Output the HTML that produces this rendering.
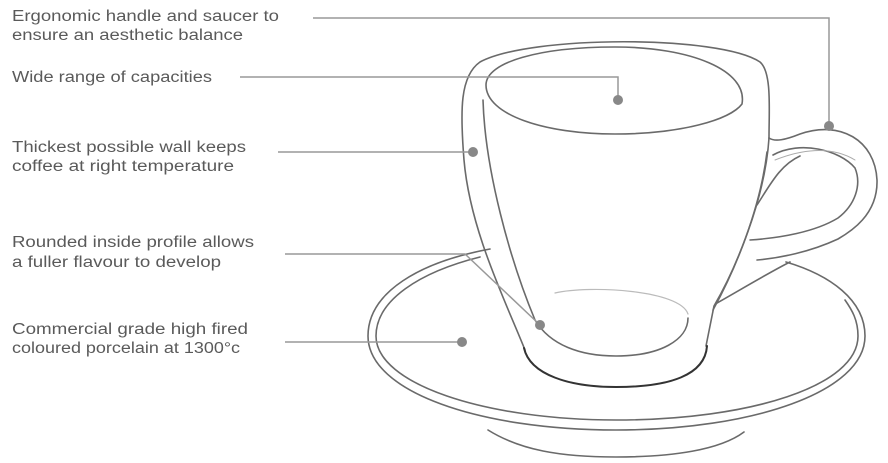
<!DOCTYPE html>
<html><head><meta charset="utf-8"><style>
html,body{margin:0;padding:0;background:#fff;}
svg{display:block;}
text{font-family:"Liberation Sans",sans-serif;font-size:15.5px;fill:#5a5a5a;}
</style></head><body>
<svg width="888" height="463" viewBox="0 0 888 463" xmlns="http://www.w3.org/2000/svg">
<g>
<text x="12" y="21" textLength="267" lengthAdjust="spacingAndGlyphs">Ergonomic handle and saucer to</text>
<text x="12" y="40" textLength="231" lengthAdjust="spacingAndGlyphs">ensure an aesthetic balance</text>
<text x="12" y="82" textLength="200" lengthAdjust="spacingAndGlyphs">Wide range of capacities</text>
<text x="12" y="152" textLength="234" lengthAdjust="spacingAndGlyphs">Thickest possible wall keeps</text>
<text x="12" y="171" textLength="222" lengthAdjust="spacingAndGlyphs">coffee at right temperature</text>
<text x="12" y="247" textLength="242" lengthAdjust="spacingAndGlyphs">Rounded inside profile allows</text>
<text x="12" y="267" textLength="209" lengthAdjust="spacingAndGlyphs">a fuller flavour to develop</text>
<text x="12" y="334" textLength="236" lengthAdjust="spacingAndGlyphs">Commercial grade high fired</text>
<text x="12" y="353" textLength="228" lengthAdjust="spacingAndGlyphs">coloured porcelain at 1300°c</text>
</g>
<g fill="none" stroke="#6a6a6a" stroke-width="1.6" stroke-linecap="round" stroke-linejoin="round">
<!-- saucer -->
<path d="M490,249 C420,262 368,292 368,336 C368,392 480,430 616,430 C752,430 865,392 865,336 C865,300 830,275 786,262"/>
<path d="M480,257 C420,272 376,300 376,336 C376,384 485,420 616,420 C750,420 858,386 858,336 C858,320 852,310 845,300"/>
<path d="M488,430 C520,450 560,457 616,457 C672,457 720,450 744,432"/>
<!-- cup rim outer -->
<path d="M525,350 C505,300 470,230 464,160 C460,110 460,76 480,62 C530,35 720,35 760,62 C772,72 769,110 769,138"/>
<!-- inner rim ellipse -->
<path d="M742,104 C748,70 690,47 615,47 C540,47 486,62 486,85 C486,115 545,134 615,134 C680,134 730,120 742,104"/>
<!-- inner left wall -->
<path d="M483,100 C485,170 510,260 535,320 C550,345 580,356 616,356 C660,356 688,340 688,318"/>
<path d="M555,293 C590,285 680,290 688,314" stroke="#bbb" stroke-width="1.2"/>
<!-- right wall -->
<path d="M769,138 C765,200 735,270 714,306 L706,346"/>
<path d="M767,152 C760,210 735,270 713,310"/>
<!-- foot -->
<path d="M524,348 C530,375 570,387 616,387 C670,387 705,375 707,346" stroke="#333" stroke-width="2"/>
<!-- handle -->
<path d="M769,138 C775,142 785,140 800,134 C840,120 875,140 877,180 C878,215 850,232 838,239 C810,252 780,258 757,260"/>
<path d="M717,303 C740,290 770,272 790,262"/>
<path d="M773,155 C800,140 840,150 855,168 C862,185 855,205 838,218 C815,232 780,238 750,240"/>
<path d="M757,205 C770,185 780,165 800,156"/>
<path d="M775,160 C800,150 830,145 855,160" stroke="#aaa" stroke-width="1"/>
</g>
<g fill="none" stroke="#999" stroke-width="1.5">
<path d="M313,18 H829 V126"/>
<path d="M240,77 H618 V100"/>
<path d="M278,152 H473"/>
<path d="M285,254 H465 L540,325"/>
<path d="M285,342 H462"/>
</g>
<g fill="#888">
<circle cx="829" cy="126" r="5"/>
<circle cx="618" cy="100" r="5"/>
<circle cx="473" cy="152" r="5"/>
<circle cx="540" cy="325" r="5"/>
<circle cx="462" cy="342" r="5"/>
</g>
</svg>
</body></html>
